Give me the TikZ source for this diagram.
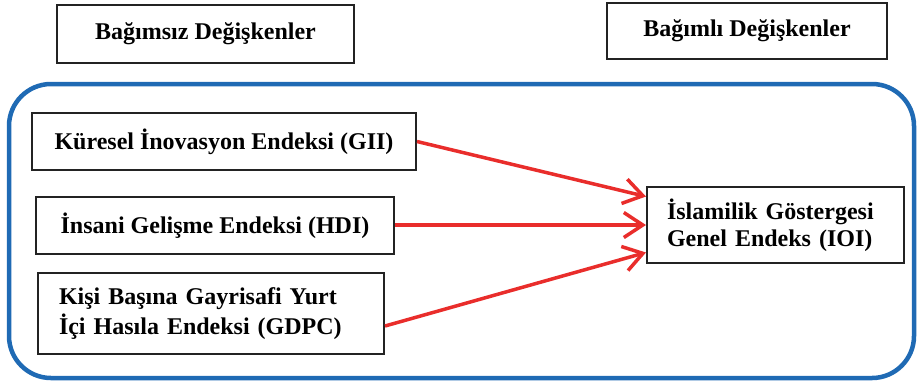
\documentclass[tikz,border=0pt]{standalone}
\usepackage{fontspec}
\setmainfont{Liberation Serif}
\usetikzlibrary{arrows.meta,calc}
\definecolor{frameblue}{RGB}{31,106,180}
\definecolor{arrowred}{RGB}{233,45,43}
\definecolor{boxline}{RGB}{35,35,35}
\tikzset{
  varbox/.style={draw=boxline, line width=2pt, inner sep=0pt, align=center,
    font=\fontsize{24}{27}\selectfont\bfseries},
  relarrow/.style={draw=arrowred, line width=3.5pt,
    -{Straight Barb[length=19pt,width=25pt,line width=3.5pt]}}
}
\begin{document}
\begin{tikzpicture}[x=1pt,y=-1pt]
\useasboundingbox (0,0) rectangle (918,384);
% headings
\node[varbox, minimum width=297pt, minimum height=58pt] (indep) at (205.5,34) {Bağımsız Değişkenler};
\node[varbox, minimum width=280pt, minimum height=56pt] (dep) at (747,31) {Bağımlı Değişkenler};
% frame
\draw[frameblue, line width=4.5pt, rounded corners=42pt] (9,84) rectangle (914,378);
% independent variables
\node[varbox, minimum width=384pt, minimum height=57pt] (gii) at (224,141.5) {Küresel İnovasyon Endeksi (GII)};
\node[varbox, minimum width=358pt, minimum height=57pt] (hdi) at (215,225.5) {İnsani Gelişme Endeksi (HDI)};
\node[varbox, inner xsep=21pt, text width=304pt, align=left, minimum height=81pt,
  font=\fontsize{24}{30}\selectfont\bfseries] (gdpc) at (211,313.5) {Kişi Başına Gayrisafi Yurt\\İçi Hasıla Endeksi (GDPC)};
% dependent variable
\node[varbox, inner xsep=20pt, text width=217pt, align=left, minimum height=76pt] (ioi) at (775.5,225) {İslamilik Göstergesi\\Genel Endeks (IOI)};
% arrows
\draw[relarrow] (gii.east) -- ($(ioi.west)+(0,-28.5)$);
\draw[relarrow] (hdi.east |- ioi.west) -- (ioi.west);
\draw[relarrow] ($(gdpc.east)+(0,12.5)$) -- ($(ioi.west)+(0,27.5)$);
\end{tikzpicture}
\end{document}
